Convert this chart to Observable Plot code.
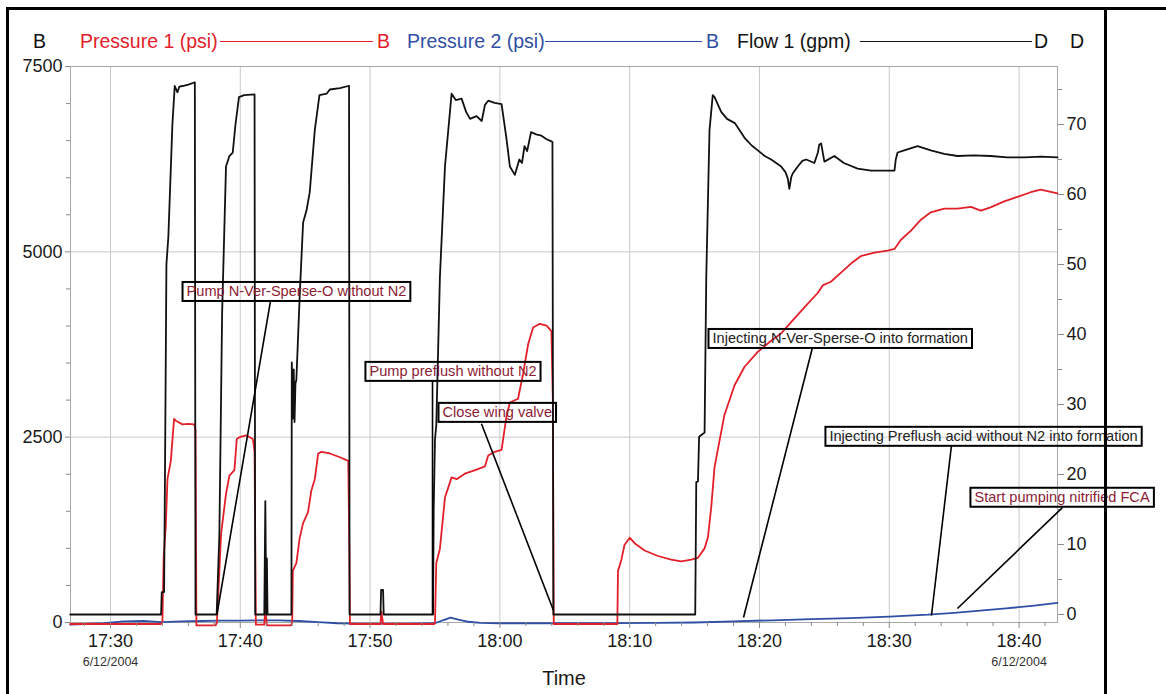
<!DOCTYPE html>
<html><head><meta charset="utf-8">
<script src="https://cdn.jsdelivr.net/npm/d3@7"></script>
<script src="https://cdn.jsdelivr.net/npm/@observablehq/plot@0.6"></script>
<style>
body{margin:0;background:#fff;font-family:"Liberation Sans",Arial,sans-serif;}
#wrap{position:relative;width:1166px;height:694px;overflow:hidden;background:#fff;}
.fr{position:absolute;background:#000;}
#legend{position:relative;height:56px;}
.lg{position:absolute;top:31.5px;font-size:19.5px;line-height:19.5px;white-space:nowrap;}
.ln{position:absolute;top:41px;height:0;border-top:1.6px solid;}
</style></head><body>
<div id="wrap">
  <div id="legend"></div>
  <div id="chart"></div>
  <div class="fr" style="left:7px;top:7px;width:1159px;height:3px"></div>
  <div class="fr" style="left:6px;top:7px;width:3px;height:700px"></div>
  <div class="fr" style="left:1104px;top:7px;width:2.5px;height:700px"></div>
</div>
<script>
const RED = "#e3202a", BLUE = "#2f4fa5", MAROON = "#8c1c34", BLACK = "#111";

// ---- data (time in minutes after 17:00 on 6/12/2004) ----
const flowMinutes = [26.9,33.9,33.95,34.13,34.2,34.31,34.46,34.77,34.95,35.16,35.3,35.55,36.0,36.45,36.5,36.55,38.18,38.39,38.6,38.9,39.16,39.42,39.63,39.9,40.3,41.1,41.15,41.85,41.93,42.0,42.05,42.1,43.94,43.97,44.05,44.12,44.18,44.25,44.32,44.58,44.84,45.1,45.35,45.74,46.1,46.65,46.9,47.68,48.32,48.38,48.42,50.8,50.85,51.0,51.05,54.85,54.9,55.0,55.1,55.38,55.77,56.28,56.6,57.05,57.4,57.7,58.2,58.6,58.85,59.1,59.6,60.13,60.5,60.77,61.15,61.5,61.7,61.9,62.1,62.4,62.8,63.2,63.6,63.97,64.05,64.12,75.05,75.13,75.26,75.35,75.77,75.9,76.15,76.4,76.54,77.05,77.5,78.1,78.85,79.4,79.87,80.4,80.9,81.67,82.0,82.18,82.3,82.45,82.56,82.95,83.3,83.6,84.23,84.5,84.6,84.75,85.0,85.77,86.5,87.56,88.6,89.5,90.4,90.5,90.64,91.15,92.18,93.2,94.23,95.26,96.5,97.8,99.1,100.4,101.7,102.96];
const flowGpm = [0,0,3.2,3.2,20,50,54,70,75.5,74.6,75.4,75.5,75.7,76,76,0,0,11.5,43,64,65.5,66,70,73.9,74.2,74.3,0,0,16.2,0,8,0,0,36,28,35,27.5,33,33.5,45.6,56,57.7,60.3,69.2,74.2,74.4,75,75.2,75.5,75.5,0,0,3.5,3.5,0,0,15,25,27,48.2,64,74.4,73.5,73.7,71.8,70.8,71.2,70.5,72.8,73.4,73.1,72.9,68.1,64,62.8,65,64.5,66.9,66.2,68.9,68.6,68.4,67.9,67.6,67.5,0,0,18.9,19,25.4,26,48.2,69.2,74.2,73.9,71.8,70.8,70.2,68.1,67,66.3,65.5,65,64,63.2,62.3,60.8,62.5,63,64,64.8,65,64.5,66,67.1,67.3,64.7,65.5,64.5,63.7,63.4,63.4,63.4,65,66,66.3,66.9,66.3,65.8,65.5,65.6,65.5,65.3,65.3,65.4,65.3];

const p1Minutes = [26.9,33.9,34.0,34.1,34.26,34.39,34.65,34.9,35.03,35.55,36.0,36.45,36.55,36.62,38.1,38.2,38.52,38.9,39.16,39.55,39.73,39.94,40.45,40.97,41.1,41.2,41.85,41.93,42.05,43.9,44.0,44.05,44.32,44.58,44.84,45.22,45.48,45.74,46.0,46.26,46.9,47.68,48.32,48.4,48.45,50.8,50.87,51.0,54.95,55.0,55.1,55.38,55.77,56.28,56.67,57.3,58.1,58.85,59.1,59.6,60.13,60.5,60.77,61.4,61.8,62.18,62.56,63.08,63.6,63.97,64.08,64.15,69.05,69.1,69.2,69.36,69.6,70.0,70.38,71.15,72.18,73.2,73.97,74.74,75.26,75.77,76.03,76.28,76.54,76.92,77.3,78.08,78.85,79.87,80.9,81.67,82.44,83.46,84.5,84.87,85.5,86.28,87.05,87.8,88.85,89.87,90.4,90.9,91.67,92.44,93.2,94.23,95.26,96.3,97.05,97.8,98.85,99.87,100.9,101.67,102.18,102.96];
const p1Psi = [-20,-20,0,897,1292,1933,2180,2747,2722,2673,2680,2673,2600,-40,-40,0,1193,1736,1982,2056,2475,2500,2525,2475,2300,-30,-30,200,-40,-40,0,700,800,1144,1341,1489,1785,1933,2278,2303,2280,2229,2180,1000,-20,-20,150,-20,-20,0,800,996,1686,1958,1933,2007,2056,2105,2253,2303,2327,2771,2968,3018,3363,3757,3979,4029,4004,3930,3000,-20,-20,700,750,848,1045,1144,1070,971,897,848,823,848,873,1000,1150,1550,2100,2450,2800,3200,3450,3650,3800,3900,4053,4251,4448,4547,4596,4719,4842,4941,4990,5015,5039,5163,5286,5434,5533,5582,5582,5607,5557,5600,5681,5740,5804,5838,5820,5789];

const p2Minutes = [26.9,28,29.5,31,32.5,34,35.5,37,38.5,40,41.5,43,44.5,46,47.5,49,51,53,55,55.6,56.2,56.8,57.6,58.5,60,63,66,69,72,75,78,81,84,87,90,93,95,97,99,101,102.96];
const p2Psi = [-30,-20,-10,15,20,5,15,20,25,25,30,30,20,5,-10,-15,-15,-15,-10,30,65,40,10,-5,-10,-10,-10,-8,-5,0,15,30,45,60,80,105,130,160,190,225,265];

const leftTicks = [0, 2500, 5000, 7500];
const leftMinor = [500,1000,1500,2000,3000,3500,4000,4500,5500,6000,6500,7000];
const rightTicks = [0,10,20,30,40,50,60,70];
const rightMinor = [5,15,25,35,45,55,65,75];
const timeTicks = [30,40,50,60,70,80,90,100];
const timeMinor = [28,32,34,36,38,42,44,46,48,52,54,56,58,62,64,66,68,72,74,76,78,82,84,86,88,92,94,96,98,102];
const dateTicks = [30, 100];

const annText = ["Pump N-Ver-Sperse-O without N2","Pump preflush without N2","Close wing valve","Injecting N-Ver-Sperse-O into formation","Injecting Preflush acid without N2 into formation","Start pumping nitrified FCA"];
const annMinutes = [35.86, 49.95, 55.58, 76.38, 85.39, 96.56];
const annPsi = [4461, 3383, 2830, 3827, 2507, 1685];
const annDark = [false, false, false, true, true, false];
const leadFromMin = [42.33, 54.81, 58.58, 84.08, 94.79, 103.34];
const leadFromPsi = [4340, 3261, 2682, 3706, 2385, 1550];
const leadToMin = [38.2, 54.81, 64.13, 78.77, 93.25, 95.25];
const leadToPsi = [108, 108, 162, 67, 94, 189];

// ---- helpers ----
const t0 = Date.UTC(2004, 5, 12, 17, 0, 0);
const T = m => new Date(t0 + m * 60000);
const FLOW_BOTTOM = -1.143, FLOW_TOP = 78.286;
const fp = f => (f - FLOW_BOTTOM) / (FLOW_TOP - FLOW_BOTTOM) * 7500;
const pf = p => p / 7500 * (FLOW_TOP - FLOW_BOTTOM) + FLOW_BOTTOM;

const flow = flowMinutes.map((m, i) => ({t: T(m), v: fp(flowGpm[i])}));
const p1 = p1Minutes.map((m, i) => ({t: T(m), v: p1Psi[i]}));
const p2 = p2Minutes.map((m, i) => ({t: T(m), v: p2Psi[i]}));
const ann = annText.map((s, i) => ({text: s, t: T(annMinutes[i]), v: annPsi[i], dark: annDark[i]}));
const leads = leadFromMin.map((m, i) => ({t1: T(m), v1: leadFromPsi[i], t2: T(leadToMin[i]), v2: leadToPsi[i]}));

// ---- legend (HTML, above the SVG) ----
const legendItems = [
  {type: "t", x: 33, s: "B", c: "#111"},
  {type: "t", x: 80, s: "Pressure 1 (psi)", c: RED},
  {type: "l", x: 220, w: 153, c: RED},
  {type: "t", x: 377, s: "B", c: RED},
  {type: "t", x: 407, s: "Pressure 2 (psi)", c: BLUE},
  {type: "l", x: 545, w: 157, c: BLUE},
  {type: "t", x: 706, s: "B", c: BLUE},
  {type: "t", x: 737, s: "Flow 1 (gpm)", c: "#111"},
  {type: "l", x: 860, w: 172, c: "#111"},
  {type: "t", x: 1034, s: "D", c: "#111"},
  {type: "t", x: 1070, s: "D", c: "#111"}
];
const lg = document.getElementById("legend");
for (const it of legendItems) {
  const el = document.createElement("div");
  if (it.type === "t") { el.className = "lg"; el.textContent = it.s; el.style.color = it.c; el.style.left = it.x + "px"; }
  else { el.className = "ln"; el.style.left = it.x + "px"; el.style.width = it.w + "px"; el.style.borderTopColor = it.c; }
  lg.appendChild(el);
}

const GRID = "#c9c9c9", TICK = "#8a8a8a", TXT = "#1a1a1a";
const chart = Plot.plot({
  width: 1166, height: 638,
  marginTop: 10, marginBottom: 72, marginLeft: 70, marginRight: 109,
  style: {fontFamily: "'Liberation Sans', Arial, sans-serif", fontSize: "18px", background: "transparent", color: TXT},
  x: {type: "utc", domain: [T(26.92), T(102.96)]},
  y: {domain: [0, 7500]},
  marks: [
    Plot.gridX(timeTicks.map(T), {stroke: GRID, strokeOpacity: 1}),
    Plot.gridY([2500, 5000], {stroke: GRID, strokeOpacity: 1}),
    Plot.frame({stroke: "#a8a8a8"}),
    Plot.line(p2, {x: "t", y: "v", stroke: BLUE, strokeWidth: 1.8}),
    Plot.line(p1, {x: "t", y: "v", stroke: RED, strokeWidth: 1.8}),
    Plot.line(flow, {x: "t", y: "v", stroke: BLACK, strokeWidth: 1.8}),
    // axes
    Plot.axisY(leftTicks, {anchor: "left", tickSize: 5, tickPadding: 3, fontSize: 18, stroke: TICK, fill: TXT, label: null, tickFormat: d => String(d)}),
    Plot.axisY(leftMinor, {anchor: "left", tickSize: 4, tickFormat: () => "", stroke: TICK, label: null}),
    Plot.axisY(rightTicks.map(fp), {anchor: "right", tickSize: 6, tickPadding: 3, fontSize: 18, stroke: TICK, fill: TXT, label: null, tickFormat: d => String(Math.round(pf(d)))}),
    Plot.axisY(rightMinor.map(fp), {anchor: "right", tickSize: 4, tickFormat: () => "", stroke: TICK, label: null}),
    Plot.axisX(timeTicks.map(T), {anchor: "bottom", tickSize: 6, tickPadding: 6, fontSize: 18, stroke: TICK, fill: TXT, label: null, tickFormat: d3.utcFormat("%H:%M")}),
    Plot.axisX(timeMinor.map(T), {anchor: "bottom", tickSize: 4, tickFormat: () => "", stroke: TICK, label: null}),
    Plot.text(dateTicks.map(T), {x: d => d, frameAnchor: "bottom", dy: 43, text: () => "6/12/2004", fontSize: 12.5, fill: "#333"}),
    Plot.text(["Time"], {frameAnchor: "bottom", dy: 62, text: d => d, fontSize: 20, fill: TXT}),
    // annotations
    Plot.link(leads, {x1: "t1", y1: "v1", x2: "t2", y2: "v2", stroke: "#000", strokeWidth: 1.6}),
    Plot.text(ann.filter(d => !d.dark), {x: "t", y: "v", text: "text", textAnchor: "start", fontSize: 14.6, fill: MAROON}),
    Plot.text(ann.filter(d => d.dark), {x: "t", y: "v", text: "text", textAnchor: "start", fontSize: 14.6, fill: "#222"})
  ]
});
document.getElementById("chart").appendChild(chart);

// boxes around annotation labels
const svg = chart.tagName.toLowerCase() === "svg" ? chart : chart.querySelector("svg");
svg.querySelectorAll("text").forEach(tx => {
  if (!annText.includes(tx.textContent)) return;
  const bb = tx.getBBox();
  const r = document.createElementNS("http://www.w3.org/2000/svg", "rect");
  const cy = bb.y + bb.height / 2;
  r.setAttribute("x", bb.x - 4);
  r.setAttribute("y", cy - 9.5);
  r.setAttribute("width", bb.width + 8);
  r.setAttribute("height", 19);
  r.setAttribute("fill", "none");
  r.setAttribute("stroke", "#000");
  r.setAttribute("stroke-width", 2);
  const tr = tx.getAttribute("transform");
  if (tr) r.setAttribute("transform", tr);
  tx.parentNode.insertBefore(r, tx);
});
</script>
</body></html>
